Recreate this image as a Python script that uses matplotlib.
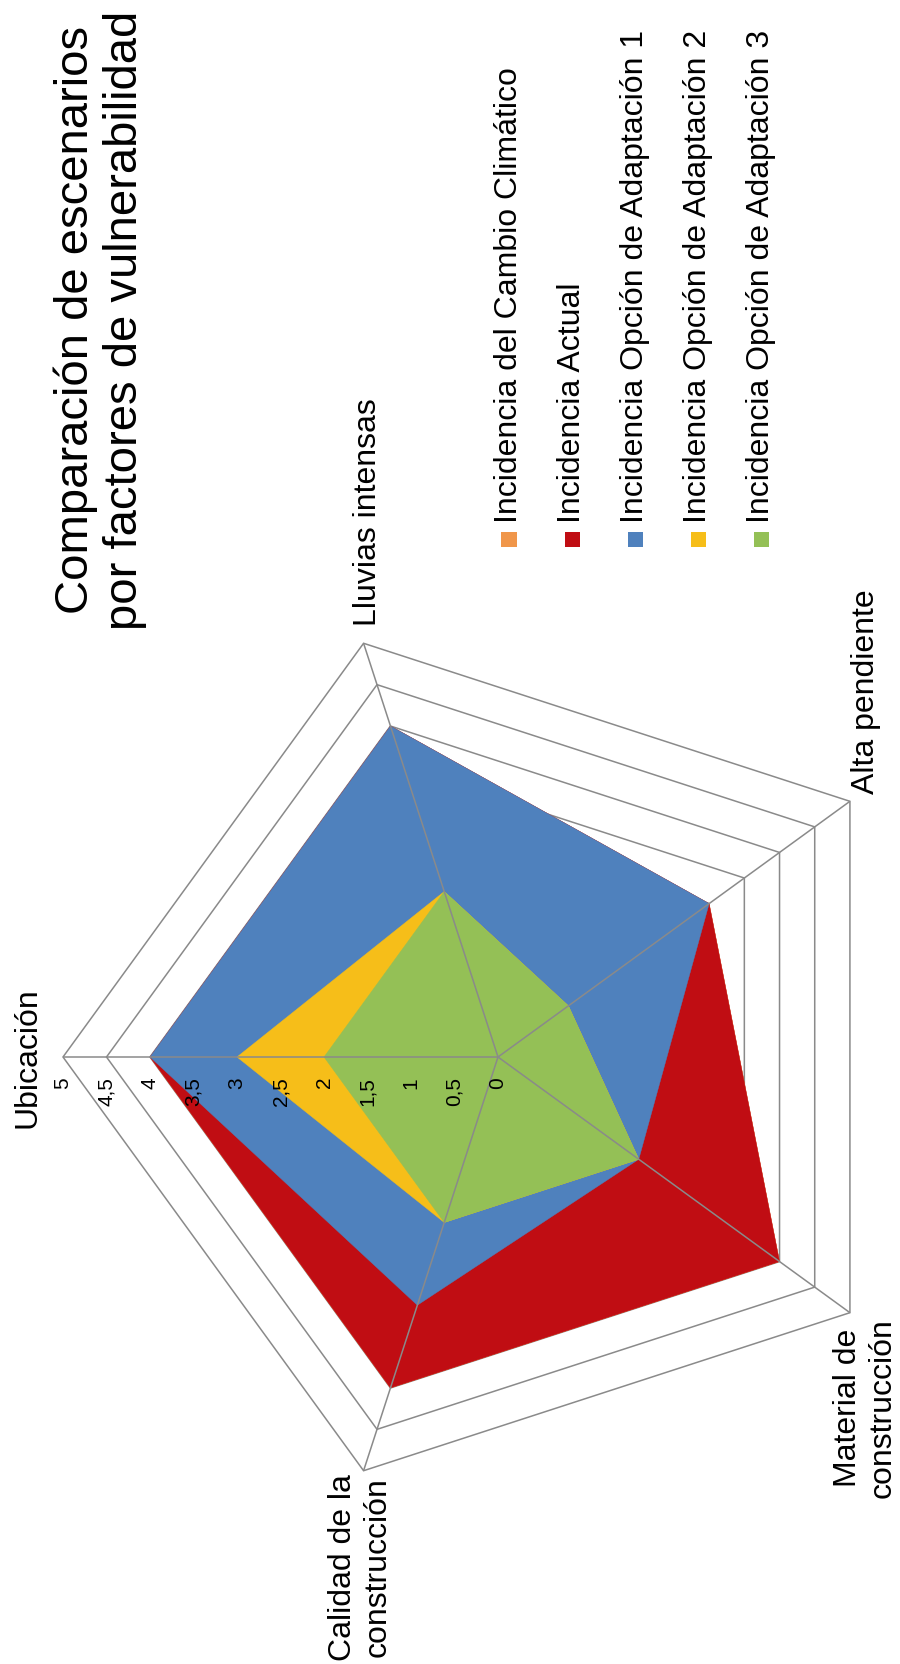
import numpy as np
import matplotlib
matplotlib.use("Agg")
import matplotlib.pyplot as plt
from matplotlib.patches import Polygon, Rectangle

plt.rcParams['font.family'] = ['Liberation Sans', 'DejaVu Sans']

# ---- data ----
categories = ["Ubicación", "Lluvias intensas", "Alta pendiente",
              "Material de\nconstrucción", "Calidad de la\nconstrucción"]
series_names = ["Incidencia del Cambio Climático", "Incidencia Actual",
                "Incidencia Opción de Adaptación 1",
                "Incidencia Opción de Adaptación 2",
                "Incidencia Opción de Adaptación 3"]
cambio_climatico = [4, 4, 3, 4, 4]
actual = [4, 4, 3, 4, 4]
opcion1 = [4, 4, 3, 2, 3]
opcion2 = [3, 2, 1, 2, 2]
opcion3 = [2, 2, 1, 2, 2]
tick_values = [0, 0.5, 1, 1.5, 2, 2.5, 3, 3.5, 4, 4.5, 5]
tick_labels = ["0", "0,5", "1", "1,5", "2", "2,5", "3", "3,5", "4", "4,5", "5"]
title = "Comparación de escenarios\npor factores de vulnerabilidad"

series = [cambio_climatico, actual, opcion1, opcion2, opcion3]
colors = ['#F0964A', '#C00D13', '#4F81BD', '#F6BE19', '#94C056']

# ---- layout (pixels) ----
W, H = 900, 1665
CX, CY = 498, 1058
UNIT = 87.0
fig = plt.figure(figsize=(W / 100, H / 100), dpi=100)
ax = fig.add_axes([0, 0, 1, 1])
ax.set_xlim(-CX / UNIT, (W - CX) / UNIT)
ax.set_ylim(-(H - CY) / UNIT, CY / UNIT)
ax.set_aspect('equal')
ax.axis('off')

n = len(categories)
angles = np.deg2rad(180 - 72 * np.arange(n))   # Ubicación points left, clockwise


def pts(vals):
    v = np.asarray(vals, dtype=float)
    return np.column_stack([v * np.cos(angles), v * np.sin(angles)])


grid_col = '#8A8A8A'
# rings (behind fills)
for t in tick_values[1:]:
    ax.add_patch(Polygon(pts([t] * n), closed=True, fill=False,
                         edgecolor=grid_col, lw=1.1, zorder=1))

# series fills
for vals, c in zip(series, colors):
    ax.add_patch(Polygon(pts(vals), closed=True, facecolor=c,
                         edgecolor=c, lw=0.3, zorder=2))

# spokes (on top)
outer = pts([5] * n)
for x, y in outer:
    ax.plot([0, x], [0, y], color=grid_col, lw=1.1, zorder=3,
            solid_capstyle='butt')

# tick labels below the Ubicación axis
for t, lab in zip(tick_values, tick_labels):
    ax.annotate(lab, xy=(-t, 0), xytext=(0, -19), textcoords='offset pixels',
                rotation=90, ha='center', va='top', fontsize=15, zorder=4)

# category labels
label_cfg = [
    dict(off=(-21, 0), ha='right', va='center'),
    dict(off=(4, 18), ha='center', va='bottom'),
    dict(off=(16, 8), ha='center', va='bottom'),
    dict(off=(15, -4), ha='center', va='top'),
    dict(off=(-3, -2), ha='center', va='top'),
]
for (x, y), lab, cfg in zip(outer, categories, label_cfg):
    ax.annotate(lab, xy=(x, y), xytext=cfg['off'], textcoords='offset pixels',
                rotation=90, ha=cfg['ha'], va=cfg['va'], fontsize=23,
                multialignment='center', linespacing=1.2)

# title
fig.text(100 / W, 1 - 320 / H, title, rotation=90, ha='center', va='center',
         fontsize=34, multialignment='center', linespacing=1.15)

# legend
leg_x = [509, 572, 635, 698, 761]
sq = 15
for lx, name, c in zip(leg_x, series_names, colors):
    fig.patches.append(Rectangle(((lx - sq / 2) / W, 1 - (540 + sq / 2) / H),
                                 sq / W, sq / H, transform=fig.transFigure,
                                 facecolor=c, edgecolor='none'))
    fig.text(lx / W, 1 - 523 / H, name, rotation=90, ha='center', va='bottom',
             fontsize=23)

fig.savefig('out.png', dpi=100)
